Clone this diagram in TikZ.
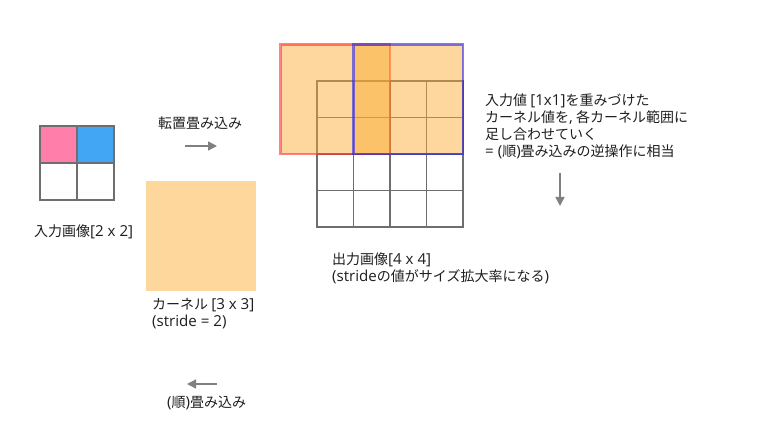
\documentclass[tikz,border=0pt]{standalone}
\usepackage{fontspec}
\setmainfont{Noto Sans CJK JP}
\newfontfamily\lt[Scale=1.08]{Open Sans}
\usetikzlibrary{arrows.meta}
\definecolor{gridgray}{RGB}{110,110,110}
\definecolor{arrgray}{RGB}{128,128,128}
\definecolor{cellpink}{RGB}{255,126,170}
\definecolor{cellblue}{RGB}{66,166,244}
\definecolor{kpeach}{RGB}{253,215,156}
\definecolor{korange}{RGB}{251,171,47}
\definecolor{kred}{RGB}{255,40,40}
\definecolor{kblue}{RGB}{30,30,255}
\definecolor{txt}{RGB}{30,30,30}
\begin{document}
\begin{tikzpicture}[x=1pt,y=-1pt,
  lbl/.style={font=\fontsize{14}{16.7}\selectfont, text=txt, inner sep=0pt, anchor=west, align=left},
  gridline/.style={draw=gridgray, line width=1.7pt, line cap=rect},
  arr/.style={draw=arrgray, line width=1.4pt, -{Triangle[length=9pt,width=9pt]}},
  kfill/.style={fill=korange, fill opacity=0.47},
  kborder/.style={line width=2.6pt, draw opacity=0.58}
]
\useasboundingbox (0,0) rectangle (778,438);

% input image 2x2
\fill[cellpink] (40,126) rectangle (77,163);
\fill[cellblue] (77,126) rectangle (114,163);
\foreach \i in {0,1,2}{
  \draw[gridline] (40+37*\i,126) -- (40+37*\i,200);
  \draw[gridline] (40,126+37*\i) -- (114,126+37*\i);
}
\node[lbl] (inlbl) at (34,232) {入力画像{\lt[2 x 2]}};

% transposed conv label and arrow
\node[lbl] (tconv) at (158,123) {転置畳み込み};
\coordinate (a1s) at (185,146);
\coordinate (a1e) at (217,146);
\draw[arr] (a1s) -- (a1e);

% kernel
\fill[kpeach] (146,181) rectangle (256,291);
\node[lbl] (klbl) at (152,313.5) {カーネル {\lt[3 x 3]}\\{\lt(stride = 2)}};

% output grid 4x4
\foreach \i in {0,1,2,3,4}{
  \draw[gridline] (317+36.5*\i,81) -- (317+36.5*\i,227);
  \draw[gridline] (317,81+36.5*\i) -- (463,81+36.5*\i);
}
% red kernel placement
\fill[kfill] (280.5,44.5) rectangle (390,154);
\draw[kborder, draw=kred] (280.5,44.5) rectangle (390,154);
% blue kernel placement
\fill[kfill] (353.5,44.5) rectangle (463,154);
\draw[kborder, draw=kblue] (353.5,44.5) rectangle (463,154);

\node[lbl] (explain) at (485,126.3) {入力値 {\lt[1x1]}を重みづけた\\カーネル値を{\lt,} 各カーネル範囲に\\足し合わせていく\\{\lt= (}順{\lt)}畳み込みの逆操作に相当};
\coordinate (a2s) at (560,173);
\coordinate (a2e) at (560,206);
\draw[arr] (a2s) -- (a2e);

\node[lbl] (outlbl) at (332,268.5) {出力画像{\lt[4 x 4]}\\{\lt(stride}の値がサイズ拡大率になる{\lt)}};

% forward conv
\coordinate (a3s) at (217,384);
\coordinate (a3e) at (187,384);
\draw[arr] (a3s) -- (a3e);
\node[lbl] (fconv) at (167,403) {{\lt(}順{\lt)}畳み込み};
\end{tikzpicture}
\end{document}
